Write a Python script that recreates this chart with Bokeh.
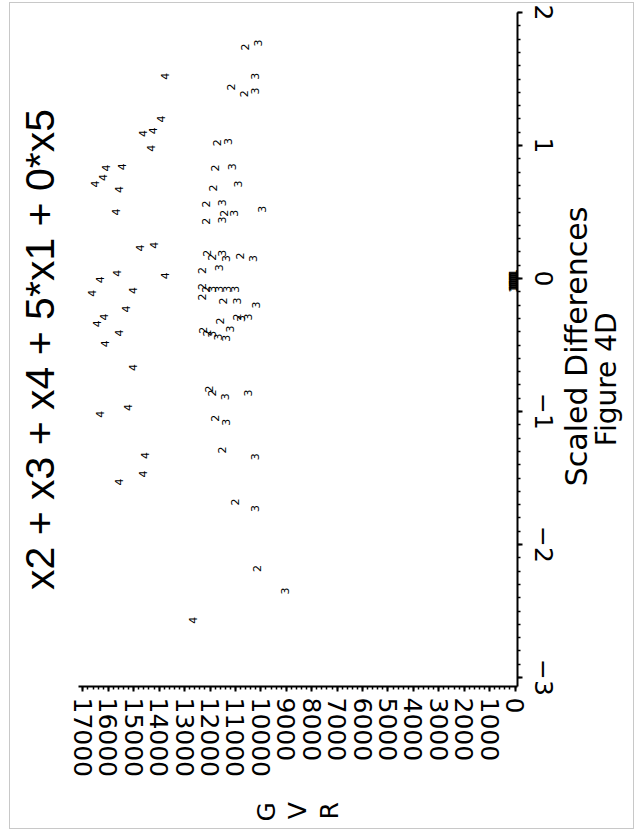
import numpy as np
from bokeh.plotting import figure
from bokeh.models import Range1d, FixedTicker, Title, LinearAxis
from bokeh.core.properties import value
from bokeh.embed import file_html
from bokeh.resources import INLINE

# ---- observations: G V R against the scaled differences, one marker digit per group
gvr_4 = [13780, 13940, 14250, 14640, 14330, 15460, 16080, 16200, 16510, 15580,
         15690, 14210, 14760, 13780, 15650, 16320, 15030, 16630, 15300, 16160,
         16430, 15580, 16120, 15030, 15230, 16320, 14560, 14640, 15580, 12650]
diff_4 = [1.52, 1.20, 1.11, 1.09, 0.98, 0.84, 0.83, 0.76, 0.71, 0.67,
          0.50, 0.25, 0.23, 0.02, 0.04, -0.01, -0.09, -0.11, -0.23, -0.29,
          -0.34, -0.41, -0.49, -0.67, -0.97, -1.02, -1.33, -1.47, -1.53, -2.57]

gvr_3 = [10120, 10240, 10240, 11290, 11130, 10900, 11520, 11050, 11520, 9960,
         11520, 11370, 10310, 11640, 11910, 11640, 11330, 11020, 10940, 10200,
         11210, 10780, 10510, 11910, 11680, 11370, 11410, 10510, 11370, 10240,
         10240, 9030]
diff_3 = [1.77, 1.52, 1.41, 1.03, 0.84, 0.71, 0.57, 0.49, 0.44, 0.52,
          0.19, 0.15, 0.15, 0.08, -0.08, -0.08, -0.08, -0.08, -0.17, -0.20,
          -0.38, -0.30, -0.29, -0.42, -0.44, -0.45, -0.89, -0.86, -1.08, -1.34,
          -1.73, -2.35]

gvr_2 = [10620, 11170, 10660, 11720, 11790, 11870, 12150, 11440, 12150, 12110,
         11910, 10820, 12300, 12300, 12150, 12300, 11480, 11600, 10940, 12260,
         12110, 12030, 11910, 11790, 11520, 11020, 10160]
diff_2 = [1.74, 1.44, 1.39, 1.02, 0.83, 0.68, 0.56, 0.49, 0.43, 0.19,
          0.16, 0.17, 0.06, -0.06, -0.08, -0.14, -0.17, -0.32, -0.29, -0.39,
          -0.41, -0.83, -0.86, -1.05, -1.29, -1.68, -2.18]

gvr_1 = [60, 70, 50, 80, 60, 40, 70, 50, 60, 70, 40, 60, 50, 80,
         60, 70, 50, 80, 60, 40, 70, 50, 60, 70, 40, 60]
diff_1 = [0.045, 0.04, 0.035, 0.03, 0.025, 0.02, 0.015, 0.01, 0.005, 0.0,
          -0.005, -0.01, -0.015, -0.02, -0.025, -0.03, -0.035, -0.04, -0.045,
          -0.05, -0.055, -0.06, -0.065, -0.07, -0.075, -0.08]

gvr_ticks = list(range(0, 17001, 1000))
gvr_minor = list(range(0, 17001, 200))
diff_ticks = [-3, -2, -1, 0, 1, 2]
diff_minor = [round(v * 0.1, 1) for v in range(-30, 21)]
diff_tick_labels = {-3: "\u22123", -2: "\u22122", -1: "\u22121", 0: "0", 1: "1", 2: "2"}

title_text = "x2 + x3 + x4 + 5*x1 + 0*x5"
gvr_letters = ["G", "V", "R"]
diff_label = "Scaled Differences"
caption = "Figure 4D"

FONT = "DejaVu Sans"
TITLE_FONT = "Liberation Sans"
NBSP = "\u00a0"
QUARTER = np.pi / 2                          # texts read bottom to top
BORDER = "linear-gradient(#c8c8c8, #c8c8c8)"

# ---- page geometry (landscape page turned a quarter); canvas starts 7 px above the page
W, H = 642, 842
FL, FR, FT, FB = 78, 521, 19, 693            # plot frame edges in canvas px
PX_PER_1000 = 25.65                          # G V R scale
X_ZERO_PX = 518.5                            # canvas px where G V R = 0
PX_PER_UNIT = 133.0                          # scaled-difference scale
Y_ZERO_PX = 285.0                            # canvas px where difference = 0


def gx(px):
    return (X_ZERO_PX - px) * 1000.0 / PX_PER_1000


def dy(py):
    return (Y_ZERO_PX - py) / PX_PER_UNIT


p = figure(width=W, height=H, output_backend="svg", toolbar_location=None,
           x_range=Range1d(gx(FL), gx(FR)), y_range=Range1d(dy(FB), dy(FT)),
           x_axis_location="below", y_axis_location="right",
           min_border_left=FL, min_border_right=W - FR,
           min_border_top=FT, min_border_bottom=H - FB)
# thin grey page border, painted behind the (transparent) canvas margins
p.styles = {
    "margin-top": "-7px",
    "background-color": "white",
    "background-image": ", ".join([BORDER] * 4),
    "background-size": "1px 827px, 1px 827px, 625px 1px, 625px 1px",
    "background-position": "9px 9px, 633px 9px, 9px 9px, 9px 835px",
    "background-repeat": "no-repeat",
}
p.xgrid.visible = False
p.ygrid.visible = False
p.outline_line_color = None
p.background_fill_color = "white"
p.border_fill_color = None

for ax in (p.xaxis[0], p.yaxis[0]):
    ax.axis_line_width = 2
    ax.axis_line_color = "black"
    ax.major_tick_line_color = "black"
    ax.minor_tick_line_color = "black"
    ax.major_tick_line_width = 2
    ax.minor_tick_line_width = 1.5
    ax.major_tick_in = 0
    ax.minor_tick_in = 0
    ax.major_tick_out = 5
    ax.minor_tick_out = 3
    ax.major_label_text_font = FONT
    ax.major_label_text_font_size = "25px"
    ax.major_label_text_color = "black"
    ax.major_label_orientation = "vertical"
    ax.axis_label_text_font = FONT
    ax.axis_label_text_font_style = "normal"
    ax.axis_label_text_color = "black"
    ax.axis_label_orientation = QUARTER

# G V R axis along the bottom, label letters stacked as on the upright page
p.xaxis.ticker = FixedTicker(ticks=gvr_ticks, minor_ticks=gvr_minor)
p.xaxis.major_label_standoff = 6
p.xaxis.axis_label = "\n".join(gvr_letters)
p.xaxis.axis_label_text_font_size = "25px"
p.xaxis.axis_label_text_line_height = 1.08
p.xaxis.axis_label_standoff = 22

# scaled-difference axis on the right; its label is set from the lower end
p.yaxis.ticker = FixedTicker(ticks=diff_ticks, minor_ticks=diff_minor)
p.yaxis.major_label_overrides = diff_tick_labels
p.yaxis.major_label_standoff = 12
p.yaxis.axis_label = NBSP * 21 + diff_label
p.yaxis.axis_label_text_font_size = "30px"
p.yaxis.axis_label_align = "start"
p.yaxis.axis_label_standoff = 21

# figure caption carried by a bare companion axis further right
cap_axis = LinearAxis(ticker=FixedTicker(ticks=[]), axis_line_color=None,
                      major_tick_out=0, minor_tick_out=0, major_tick_in=0,
                      minor_tick_in=0, major_label_standoff=0,
                      axis_label=NBSP * 27 + caption, axis_label_align="start",
                      axis_label_orientation=QUARTER, axis_label_standoff=-8,
                      axis_label_text_font=FONT, axis_label_text_font_size="28px",
                      axis_label_text_font_style="normal", axis_label_text_color="black")
p.add_layout(cap_axis, "right")

# ---- markers: each observation drawn as its group digit, turned with the page
for xs, ys, digit in ((gvr_4, diff_4, "4"), (gvr_3, diff_3, "3"),
                      (gvr_2, diff_2, "2"), (gvr_1, diff_1, "1")):
    p.text(x=xs, y=ys, text=[digit] * len(xs), angle=QUARTER,
           text_align="center", text_baseline="middle",
           text_font=value(FONT), text_font_size="11px", text_color="black")

# ---- model formula along the left edge
p.add_layout(Title(text=title_text, align="center", vertical_align="middle",
                   text_font=TITLE_FONT, text_font_size="41px",
                   text_font_style="normal", text_color="black", standoff=30), "left")

open("out.html", "w").write(file_html(p, INLINE))
